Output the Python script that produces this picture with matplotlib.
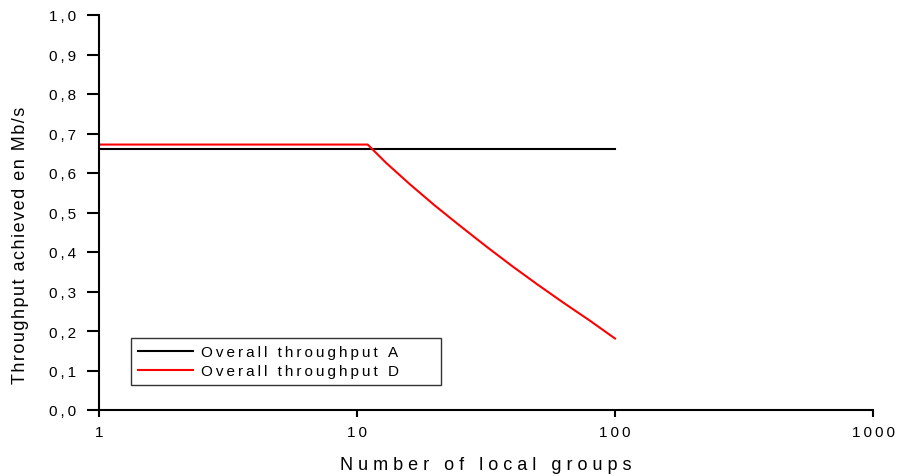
import matplotlib
matplotlib.use("Agg")
import matplotlib.pyplot as plt
from matplotlib.ticker import NullLocator

plt.rcParams['font.family'] = ['Liberation Sans', 'DejaVu Sans']

# data
groups_a = [1, 100]
throughput_a = [0.66, 0.66]

groups_d = [1, 11, 13, 16, 20, 25, 32, 40, 50, 63, 80, 100]
throughput_d = [0.672, 0.672, 0.625, 0.572, 0.518, 0.467, 0.412, 0.364, 0.318, 0.272, 0.226, 0.181]

x_ticks = [1, 10, 100, 1000]
y_ticks = [0.0, 0.1, 0.2, 0.3, 0.4, 0.5, 0.6, 0.7, 0.8, 0.9, 1.0]

THIN = '\u2009'
HAIR = '\u200a'


def spaced(s, sep=' '):
    # old-style letter spaced text
    return sep.join(s)


fig = plt.figure(figsize=(8.97, 4.77), dpi=100)
ax = fig.add_axes([99 / 897, 1 - 411 / 477, (873 - 99) / 897, (411 - 16) / 477])

ax.plot(groups_a, throughput_a, color='black', lw=1.5, label=spaced('Overall throughput A', THIN))
ax.plot(groups_d, throughput_d, color='#ff0000', lw=1.5, label=spaced('Overall throughput D', THIN))

ax.set_xscale('log')
ax.set_xlim(1, 1000)
ax.set_ylim(0, 1.0)
ax.xaxis.set_minor_locator(NullLocator())
ax.set_xticks(x_ticks)
ax.set_xticklabels([spaced(str(v), THIN) for v in x_ticks])
ax.set_yticks(y_ticks)
ax.set_yticklabels([spaced(f'{v:.1f}'.replace('.', ','), THIN) for v in y_ticks])

for side in ['top', 'right']:
    ax.spines[side].set_visible(False)
for side in ['left', 'bottom']:
    ax.spines[side].set_linewidth(1.5)

ax.tick_params(axis='y', direction='out', length=8.6, width=1.5, labelsize=11, pad=8)
ax.tick_params(axis='x', direction='out', length=5, width=1.5, labelsize=11, pad=6)

ax.set_xlabel(spaced('Number of local groups'), fontsize=13, labelpad=12)
ax.set_ylabel(spaced('Throughput achieved en Mb/s', HAIR), fontsize=13)
ax.yaxis.set_label_coords(21 / 897, 1 - 245 / 477, transform=fig.transFigure)
ax.yaxis.label.set_va('center')

leg = ax.legend(loc='lower left', bbox_to_anchor=(131 / 897, 1 - 386 / 477, 310 / 897, 47 / 477),
                bbox_transform=fig.transFigure, mode='expand',
                fontsize=11, frameon=True, fancybox=False, handlelength=3.6, handletextpad=0.5,
                borderpad=0.45, labelspacing=0.33, borderaxespad=0)
leg.get_frame().set_edgecolor('black')
leg.get_frame().set_linewidth(1.0)

fig.savefig('out.png', dpi=100)
